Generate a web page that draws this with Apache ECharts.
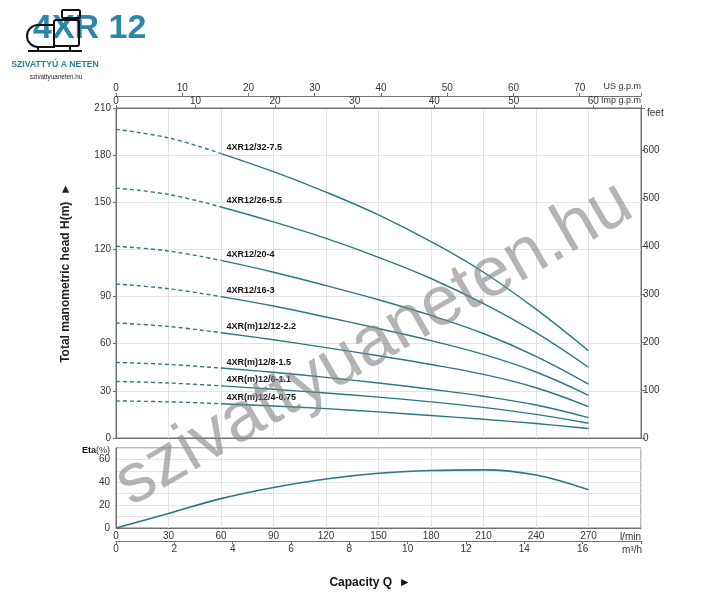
<!DOCTYPE html>
<html>
<head>
<meta charset="utf-8">
<title>4XR 12</title>
<script src="https://cdn.jsdelivr.net/npm/echarts@6/dist/echarts.min.js"></script>
<style>
  html, body { margin: 0; padding: 0; background: #fff; }
  #chart { width: 717px; height: 600px; }
</style>
</head>
<body>
<div id="chart"></div>
<script>
// capacity points, l/min
var flow = [0, 30, 60, 90, 120, 150, 180, 210, 240, 270];

var models = ['4XR12/32-7.5', '4XR12/26-5.5', '4XR12/20-4', '4XR12/16-3',
  '4XR(m)12/12-2.2', '4XR(m)12/8-1.5', '4XR(m)12/6-1.1', '4XR(m)12/4-0.75'];

// head H(m) for each model at the flow points
var head32 = [196.4, 191, 181, 169.5, 156.5, 142, 125, 105.5, 82, 55.5];
var head26 = [159, 155, 147, 137.5, 127, 115, 101.5, 85.5, 67, 45];
var head20 = [122, 119, 113, 105.5, 97, 88, 78, 66.5, 52, 34.3];
var head16 = [98, 95, 90, 84, 77, 69.7, 62, 53.2, 42, 27.2];
var head12 = [73.2, 71, 67, 62.5, 57.5, 52.3, 46.8, 40.5, 32, 20];
var head8 = [48.1, 46.8, 44.5, 41.8, 38.6, 35, 31, 26.6, 21, 13];
var head6 = [36, 35, 33.2, 31, 28.6, 26, 23, 19.5, 15, 9.4];
var head4 = [23.6, 23, 21.8, 20.4, 18.7, 16.6, 14.3, 11.9, 9.2, 6];
var heads = [head32, head26, head20, head16, head12, head8, head6, head4];

// efficiency Eta(%)
var eta = [0, 12.7, 25.7, 35.5, 42.9, 47.9, 50.3, 50.9, 46.4, 33.4];

var dashedUntil = 3; // first points (0-60 l/min) are dashed

var lineColor = '#2a7785';
var axisColor = '#707070';
var gridColor = '#e3e3e3';
var font = 'Liberation Sans, Arial, sans-serif';

function whole(step) {
  return function (v) {
    return Math.abs(v / step - Math.round(v / step)) < 1e-6 ? String(Math.round(v)) : '';
  };
}

var labelStyle = { color: '#333', fontSize: 10, fontFamily: font };

var series = [];
models.forEach(function (name, i) {
  var h = heads[i];
  series.push({
    type: 'line', xAxisIndex: 0, yAxisIndex: 0, smooth: 0.4, symbol: 'none',
    lineStyle: { color: lineColor, width: 1.4, type: [4, 3] },
    data: flow.slice(0, dashedUntil).map(function (q, k) { return [q, h[k]]; })
  });
  series.push({
    type: 'line', xAxisIndex: 0, yAxisIndex: 0, smooth: 0.4, symbol: 'none',
    lineStyle: { color: lineColor, width: 1.4 },
    data: flow.slice(dashedUntil - 1).map(function (q, k) {
      var item = { value: [q, h[k + dashedUntil - 1]] };
      if (k === 0) {
        item.symbol = 'circle';
        item.symbolSize = 1;
        item.label = {
          show: true, position: 'right', distance: 5, offset: [0, -6],
          formatter: name, color: '#111', fontSize: 9, fontWeight: 'bold', fontFamily: font
        };
      }
      return item;
    })
  });
});
series.push({
  type: 'line', xAxisIndex: 3, yAxisIndex: 2, smooth: 0.4, symbol: 'none',
  lineStyle: { color: lineColor, width: 1.6 },
  data: flow.map(function (q, k) { return [q, eta[k]]; })
});

var myChart = echarts.init(document.getElementById('chart'));
var option = {
  animation: false,
  backgroundColor: '#fff',
  textStyle: { fontFamily: font },
  grid: [
    { left: 116, right: 76, top: 108, height: 330, show: true, borderColor: axisColor, borderWidth: 1 },
    { left: 116, right: 76, top: 448, height: 80, show: true, borderColor: axisColor, borderWidth: 1 }
  ],
  xAxis: [
    {
      gridIndex: 0, type: 'value', position: 'bottom', min: 0, max: 300, interval: 30,
      axisLine: { onZero: false, lineStyle: { color: axisColor } }, axisTick: { show: false },
      axisLabel: { show: false }, splitLine: { lineStyle: { color: gridColor } }
    },
    {
      gridIndex: 0, type: 'value', position: 'top', offset: 12, min: 0, max: 300 / 3.78541, interval: 10,
      axisLine: { onZero: false, lineStyle: { color: axisColor } }, axisTick: { length: 3, lineStyle: { color: axisColor } },
      axisLabel: Object.assign({ margin: 3, formatter: whole(10) }, labelStyle), splitLine: { show: false }
    },
    {
      gridIndex: 0, type: 'value', position: 'top', offset: 0, min: 0, max: 300 / 4.54609, interval: 10,
      axisLine: { onZero: false, lineStyle: { color: axisColor } }, axisTick: { length: 3, lineStyle: { color: axisColor } },
      axisLabel: Object.assign({ margin: 2, formatter: whole(10) }, labelStyle), splitLine: { show: false }
    },
    {
      gridIndex: 1, type: 'value', position: 'bottom', min: 0, max: 300, interval: 30,
      axisLine: { onZero: false, lineStyle: { color: axisColor } }, axisTick: { show: false },
      axisLabel: Object.assign({ margin: 3, formatter: function (v) { return v < 300 ? String(v) : ''; } }, labelStyle),
      splitLine: { lineStyle: { color: gridColor } }
    },
    {
      gridIndex: 1, type: 'value', position: 'bottom', offset: 13, min: 0, max: 18, interval: 2,
      axisLine: { onZero: false, lineStyle: { color: axisColor } }, axisTick: { length: 3, lineStyle: { color: axisColor } },
      axisLabel: Object.assign({ margin: 3, formatter: function (v) { return v < 18 ? String(v) : ''; } }, labelStyle),
      splitLine: { show: false }
    }
  ],
  yAxis: [
    {
      gridIndex: 0, type: 'value', position: 'left', min: 0, max: 210, interval: 30,
      name: 'Total manometric head H(m)  \u25BA', nameLocation: 'middle', nameGap: 44,
      nameTextStyle: { color: '#222', fontSize: 12, fontWeight: 'bold', fontFamily: font },
      axisLine: { show: true, onZero: false, lineStyle: { color: axisColor } }, axisTick: { length: 3, lineStyle: { color: axisColor } },
      axisLabel: Object.assign({ margin: 5 }, labelStyle), splitLine: { lineStyle: { color: gridColor } }
    },
    {
      gridIndex: 0, type: 'value', position: 'right', min: 0, max: 210 / 0.3048, interval: 100,
      axisLine: { show: true, onZero: false, lineStyle: { color: axisColor } }, axisTick: { length: 4, lineStyle: { color: axisColor } },
      axisLabel: Object.assign({ margin: 2, formatter: whole(100) }, labelStyle), splitLine: { show: false }
    },
    {
      gridIndex: 1, type: 'value', position: 'left', min: 0, max: 70, interval: 10,
      axisLine: { show: true, onZero: false, lineStyle: { color: axisColor } }, axisTick: { show: false },
      axisLabel: Object.assign({ margin: 6, formatter: function (v) { return v % 20 === 0 ? String(v) : ''; } }, labelStyle),
      splitLine: { lineStyle: { color: gridColor } }
    }
  ],
  graphic: [
    // logo
    { type: 'text', left: 33, top: 12, style: { text: '4XR 12', fill: '#2c86ab', font: 'bold 34px ' + font } },
    { type: 'rect', shape: { x: 27, y: 25, width: 27, height: 22, r: [11, 0, 0, 11] }, style: { fill: 'none', stroke: '#111', lineWidth: 2 } },
    { type: 'rect', shape: { x: 54, y: 20, width: 25, height: 26, r: 2 }, style: { fill: 'none', stroke: '#111', lineWidth: 2 } },
    { type: 'rect', shape: { x: 62, y: 10, width: 18, height: 8, r: 1 }, style: { fill: 'none', stroke: '#111', lineWidth: 2 } },
    { type: 'line', shape: { x1: 66, y1: 18, x2: 66, y2: 20 }, style: { stroke: '#111', lineWidth: 2 } },
    { type: 'line', shape: { x1: 28, y1: 51, x2: 82, y2: 51 }, style: { stroke: '#111', lineWidth: 2 } },
    { type: 'line', shape: { x1: 38, y1: 47, x2: 38, y2: 51 }, style: { stroke: '#111', lineWidth: 2 } },
    { type: 'line', shape: { x1: 70, y1: 46, x2: 70, y2: 51 }, style: { stroke: '#111', lineWidth: 2 } },
    { type: 'text', x: 55, y: 65, style: { text: 'SZIVATTY\u00DA A NETEN', fill: '#2b7faa', font: 'bold 8.7px ' + font, textAlign: 'center', textVerticalAlign: 'middle' } },
    { type: 'text', x: 56, y: 77, style: { text: 'szivattyuaneten.hu', fill: '#222', font: '6.3px ' + font, textAlign: 'center', textVerticalAlign: 'middle' } },
    // unit labels
    { type: 'text', x: 641, y: 87, style: { text: 'US g.p.m', fill: '#333', font: '9px ' + font, textAlign: 'right', textVerticalAlign: 'middle' } },
    { type: 'text', x: 641, y: 101, style: { text: 'Imp g.p.m', fill: '#333', font: '9px ' + font, textAlign: 'right', textVerticalAlign: 'middle' } },
    { type: 'text', x: 647, y: 113, style: { text: 'feet', fill: '#333', font: '10px ' + font, textAlign: 'left', textVerticalAlign: 'middle' } },
    { type: 'text', x: 641, y: 537, style: { text: 'l/min', fill: '#333', font: '10px ' + font, textAlign: 'right', textVerticalAlign: 'middle' } },
    { type: 'text', x: 642, y: 550, style: { text: 'm\u00B3/h', fill: '#333', font: '10px ' + font, textAlign: 'right', textVerticalAlign: 'middle' } },
    { type: 'text', x: 82, y: 451, style: { text: '{b|Eta}(%)', fill: '#333', font: '9px ' + font, textVerticalAlign: 'middle', rich: { b: { fontWeight: 'bold', fontSize: 9, fill: '#111', fontFamily: font } } } },
    { type: 'text', x: 370, y: 583, style: { text: 'Capacity Q  \u25BA', fill: '#111', font: 'bold 12px ' + font, textAlign: 'center', textVerticalAlign: 'middle' } },
    // watermark
    { type: 'text', x: 374, y: 344, rotation: Math.PI / 6, z: 100, style: { text: 'szivattyuaneten.hu', fill: 'rgba(130,130,130,0.6)', font: '70px ' + font, textAlign: 'center', textVerticalAlign: 'middle' } }
  ],
  series: series
};
option && myChart.setOption(option);
window.addEventListener('resize', function () {
  myChart.resize();
});
</script>
</body>
</html>
